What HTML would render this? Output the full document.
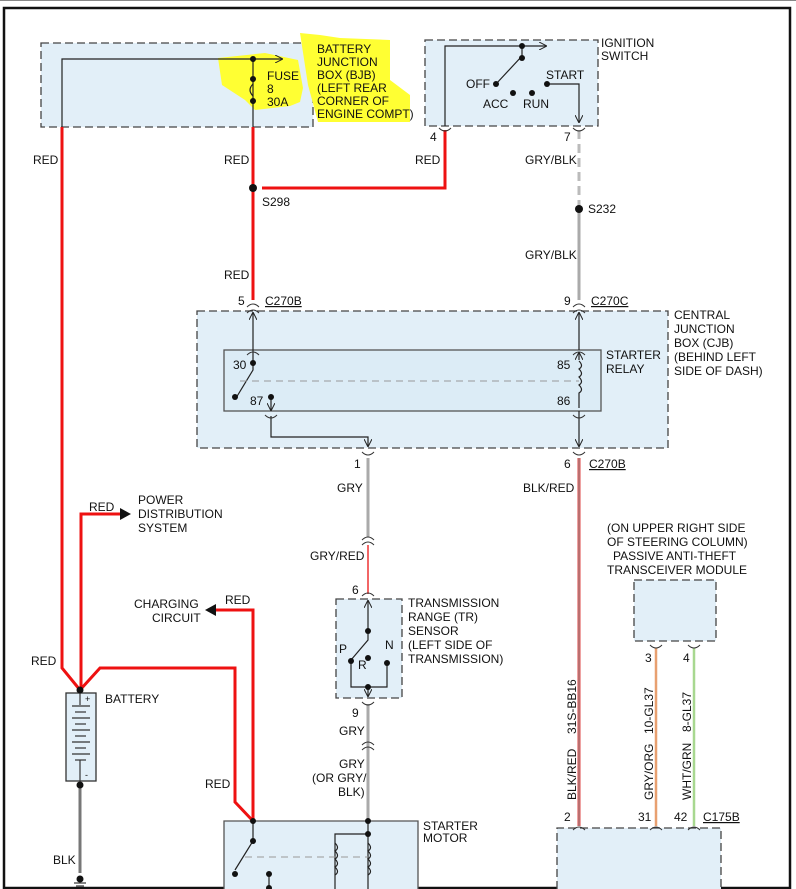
<!DOCTYPE html>
<html><head><meta charset="utf-8"><style>
html,body{margin:0;padding:0;background:#fff;}
svg{display:block;font-family:"Liberation Sans",Arial,sans-serif;font-size:12px;}
</style></head><body>
<svg width="796" height="889" viewBox="0 0 796 889" xmlns="http://www.w3.org/2000/svg">
<defs>
<marker id="ah" markerWidth="8" markerHeight="8" refX="7" refY="4" orient="auto" markerUnits="userSpaceOnUse"><path d="M0,0 L8,4 L0,8" fill="none" stroke="#222" stroke-width="1"/></marker>
</defs>
<rect x="0" y="0" width="796" height="889" fill="#fff"/>
<line x1="0" y1="0.5" x2="796" y2="0.5" stroke="#888"/>
<rect x="4" y="8" width="786" height="880" fill="none" stroke="#111" stroke-width="2.5"/>

<!-- boxes -->
<g fill="#e2eff8" stroke="#444" stroke-width="1.3" stroke-dasharray="8,4">
<rect x="41" y="43" width="272" height="84"/>
<rect x="425" y="40" width="173" height="86"/>
<rect x="197" y="311" width="471" height="137"/>
<rect x="336" y="599" width="66" height="99"/>
<rect x="634" y="580" width="82" height="61"/>
<path d="M557,889 L557,828 L721,828 L721,889"/>
</g>
<rect x="224" y="350" width="377" height="61" fill="#dcecf6" stroke="#555" stroke-width="1.3"/>
<path d="M224,889 L224,821 L418,821 L418,889" fill="#e2eff8" stroke="#555" stroke-width="1.3"/>
<rect x="66" y="693" width="30" height="88" fill="#e2eff8" stroke="#333" stroke-width="1.3"/>

<!-- yellow highlight -->
<path d="M300,33 L320,35 L340,38 L390,40 L390,80 L410,95 L410,122 L318,122 L308,85 Z" fill="#ffff33"/>
<path d="M218,58 L265,53 L298,60 L303,88 L300,102 L290,106 L255,110 L245,100 L222,85 Z" fill="#ffff33"/>

<!-- red wires -->
<g fill="none" stroke="#ee1111" stroke-width="3">
<path d="M62,127 L62,668 L80,690"/>
<path d="M81,690 L81,514 L120,514"/>
<path d="M80,690 L100,668 L235,668 L235,802 L253,821"/>
<path d="M253,821 L253,610 L216,610"/>
<path d="M253,127 L253,300"/>
<path d="M262,188 L445,188 L445,130"/>
</g>
<path d="M120,508 L131,514 L120,520 Z" fill="#111"/>
<path d="M216,604 L205,610 L216,616 Z" fill="#111"/>

<!-- gray wires -->
<line x1="579" y1="130" x2="579" y2="209" stroke="#bbb" stroke-width="3" stroke-dasharray="9,5"/>
<line x1="579" y1="209" x2="579" y2="300" stroke="#aaa" stroke-width="3"/>
<line x1="368" y1="458" x2="368" y2="537" stroke="#aaa" stroke-width="3"/>
<line x1="368" y1="545" x2="368" y2="594" stroke="#e33" stroke-width="1.5"/>
<line x1="368" y1="704" x2="368" y2="821" stroke="#aaa" stroke-width="3"/>
<line x1="579" y1="458" x2="579" y2="826" stroke="#d44" stroke-width="3"/>
<line x1="579" y1="458" x2="579" y2="826" stroke="#999" stroke-width="1"/>
<line x1="656" y1="648" x2="656" y2="826" stroke="#e8a070" stroke-width="2.5"/>
<line x1="694" y1="648" x2="694" y2="826" stroke="#a8d890" stroke-width="2.5"/>
<line x1="80" y1="785" x2="80" y2="873" stroke="#777" stroke-width="3"/>

<!-- black internal wires -->
<g fill="none" stroke="#222" stroke-width="1.2">
<path d="M62,127 L62,59 L282,59" marker-end="url(#ah)"/>
<path d="M253,59 L253,127"/>
<path d="M253,84 q-6,6 0,12"/>
<path d="M445,126 L445,46 L546,46" marker-end="url(#ah)"/>
<path d="M522,46 L522,56 L496,84"/>
<path d="M547,84 L579,84 L579,122" marker-end="url(#ah)"/>
<path d="M253,350 L253,313" marker-end="url(#ah)"/>
<path d="M253,350 L253,370 L236,398"/>
<path d="M579,350 L579,313" marker-end="url(#ah)"/>
<path d="M579,361 q5,5 0,8 q5,5 0,8 q5,5 0,8 q5,5 0,8 L579,408" />
<path d="M579,360 L579,353" marker-end="url(#ah)"/>
<path d="M579,411 L579,446" marker-end="url(#ah)"/>
<path d="M271,398 L271,410" marker-end="url(#ah)"/>
<path d="M271,416 L271,437 L368,437 L368,446" marker-end="url(#ah)"/>
<path d="M368,630 L368,640 L351,660"/>
<path d="M368,631 L368,601" marker-end="url(#ah)"/>
<path d="M351,663 L351,687 L387,687 L387,663"/>
<path d="M368,687 L368,696" marker-end="url(#ah)"/>
<path d="M253,821 L253,841 L235,870"/>
<path d="M368,821 L368,889"/>
<path d="M368,834 L335,834 L335,889"/>
<path d="M335,843 q5,5 0,8 q5,5 0,8 q5,5 0,8 q5,5 0,8"/>
<path d="M368,843 q5,5 0,8 q5,5 0,8 q5,5 0,8 q5,5 0,8"/>
<path d="M269,875 L269,889"/>
</g>
<g stroke="#999" stroke-width="1" stroke-dasharray="7,5">
<line x1="240" y1="381" x2="579" y2="381"/>
<line x1="245" y1="857" x2="368" y2="857"/>
</g>
<!-- connector arcs -->
<g fill="none" stroke="#333" stroke-width="1">
<path d="M247,307 q6,-6 12,0"/><path d="M247,313 q6,-6 12,0"/>
<path d="M573,307 q6,-6 12,0"/><path d="M573,313 q6,-6 12,0"/>
<path d="M247,355 q6,-6 12,0"/><path d="M573,355 q6,-6 12,0"/>
<path d="M265,415 q6,6 12,0"/><path d="M573,415 q6,6 12,0"/>
<path d="M362,452 q6,6 12,0"/><path d="M573,452 q6,6 12,0"/>
<path d="M439,128 q6,6 12,0"/><path d="M573,128 q6,6 12,0"/>
<path d="M362,540 q6,-6 12,0"/><path d="M362,545 q6,-6 12,0"/>
<path d="M362,596 q6,-6 12,0"/><path d="M362,702 q6,6 12,0"/>
<path d="M362,745 q6,-6 12,0"/><path d="M362,750 q6,-6 12,0"/>
<path d="M650,645 q6,6 12,0"/><path d="M688,645 q6,6 12,0"/>
<path d="M573,830 q6,-6 12,0"/><path d="M650,830 q6,-6 12,0"/><path d="M688,830 q6,-6 12,0"/>
</g>
<!-- battery -->
<g stroke="#333" stroke-width="1.2">
<line x1="80" y1="693" x2="80" y2="705"/>
<line x1="72" y1="706" x2="90" y2="706"/><line x1="75" y1="712" x2="86" y2="712"/>
<line x1="72" y1="718" x2="90" y2="718"/><line x1="75" y1="724" x2="86" y2="724"/>
<line x1="72" y1="730" x2="90" y2="730"/><line x1="75" y1="736" x2="86" y2="736"/>
<line x1="72" y1="742" x2="90" y2="742"/><line x1="75" y1="748" x2="86" y2="748"/>
<line x1="72" y1="754" x2="90" y2="754"/><line x1="75" y1="760" x2="86" y2="760"/>
<line x1="80" y1="760" x2="80" y2="781"/>
<line x1="74" y1="883" x2="86" y2="883"/><line x1="76" y1="886" x2="84" y2="886"/>
</g>
<!-- dots -->
<g fill="#111">
<circle cx="253" cy="59" r="3"/><circle cx="253" cy="79" r="3"/><circle cx="253" cy="101" r="3"/>
<circle cx="253" cy="188" r="4"/><circle cx="579" cy="209" r="4"/>
<circle cx="522" cy="46" r="3"/><circle cx="522" cy="58" r="3"/><circle cx="496" cy="84" r="3"/>
<circle cx="513" cy="93" r="3"/><circle cx="532" cy="93" r="3"/><circle cx="547" cy="84" r="3"/>
<circle cx="253" cy="363" r="3"/><circle cx="235" cy="397" r="3"/><circle cx="271" cy="397" r="3"/>
<circle cx="368" cy="631" r="3"/><circle cx="351" cy="661" r="3"/><circle cx="368" cy="658" r="3"/><circle cx="387" cy="663" r="3"/><circle cx="368" cy="687" r="3"/>
<circle cx="80" cy="690" r="3.5"/><circle cx="80" cy="785" r="3.5"/><circle cx="80" cy="879" r="3.5"/>
<circle cx="253" cy="821" r="3"/><circle cx="253" cy="841" r="3"/><circle cx="235" cy="874" r="3"/>
<circle cx="368" cy="821" r="3"/><circle cx="368" cy="834" r="3"/><circle cx="269" cy="874" r="3"/><circle cx="269" cy="888" r="3"/>
</g>
<!-- text -->
<g fill="#111">
<text x="317" y="53">BATTERY</text><text x="317" y="66">JUNCTION</text><text x="317" y="79">BOX (BJB)</text>
<text x="317" y="92">(LEFT REAR</text><text x="317" y="105">CORNER OF</text><text x="317" y="118">ENGINE COMPT)</text>
<text x="267" y="80">FUSE</text><text x="267" y="93">8</text><text x="267" y="106">30A</text>
<text x="601" y="47">IGNITION</text><text x="601" y="60">SWITCH</text>
<text x="466" y="88">OFF</text><text x="483" y="108">ACC</text><text x="523" y="108">RUN</text><text x="546" y="79">START</text>
<text x="430" y="141">4</text><text x="564" y="141">7</text>
<text x="33" y="164">RED</text><text x="224" y="164">RED</text><text x="415" y="164">RED</text>
<text x="525" y="164">GRY/BLK</text>
<text x="262" y="206">S298</text><text x="588" y="213">S232</text>
<text x="525" y="259">GRY/BLK</text><text x="224" y="279">RED</text>
<text x="238" y="305">5</text><text x="265" y="305" text-decoration="underline">C270B</text>
<text x="564" y="305">9</text><text x="591" y="305" text-decoration="underline">C270C</text>
<text x="674" y="319">CENTRAL</text><text x="674" y="333">JUNCTION</text><text x="674" y="347">BOX (CJB)</text>
<text x="674" y="361">(BEHIND LEFT</text><text x="674" y="375">SIDE OF DASH)</text>
<text x="606" y="359">STARTER</text><text x="606" y="373">RELAY</text>
<text x="233" y="369">30</text><text x="250" y="405">87</text><text x="557" y="369">85</text><text x="557" y="405">86</text>
<text x="354" y="468">1</text><text x="564" y="468">6</text><text x="589" y="468" text-decoration="underline">C270B</text>
<text x="337" y="492">GRY</text><text x="523" y="492">BLK/RED</text>
<text x="89" y="511">RED</text>
<text x="138" y="504">POWER</text><text x="138" y="518">DISTRIBUTION</text><text x="138" y="532">SYSTEM</text>
<text x="310" y="560">GRY/RED</text>
<text x="607" y="532">(ON UPPER RIGHT SIDE</text><text x="607" y="546">OF STEERING COLUMN)</text>
<text x="613" y="560">PASSIVE ANTI-THEFT</text><text x="607" y="574">TRANSCEIVER MODULE</text>
<text x="352" y="594">6</text>
<text x="408" y="607">TRANSMISSION</text><text x="408" y="621">RANGE (TR)</text><text x="408" y="635">SENSOR</text>
<text x="408" y="649">(LEFT SIDE OF</text><text x="408" y="663">TRANSMISSION)</text>
<text x="134" y="608">CHARGING</text><text x="152" y="622">CIRCUIT</text><text x="225" y="604">RED</text>
<text x="31" y="665">RED</text>
<text x="339" y="653">P</text><text x="358" y="669">R</text><text x="385" y="649">N</text>
<text x="645" y="662">3</text><text x="683" y="662">4</text>
<text x="105" y="703">BATTERY</text><text x="85" y="702" font-size="9">+</text><text x="85" y="778" font-size="9">-</text>
<text x="352" y="717">9</text><text x="339" y="735">GRY</text>
<text x="339" y="768">GRY</text><text x="312" y="782">(OR GRY/</text><text x="338" y="796">BLK)</text>
<text x="205" y="788">RED</text>
<text x="423" y="830">STARTER</text><text x="423" y="842">MOTOR</text>
<text x="53" y="864">BLK</text>
<text x="564" y="821">2</text><text x="638" y="821">31</text><text x="674" y="821">42</text>
<text x="703" y="821" text-decoration="underline">C175B</text>
<text transform="translate(576,800) rotate(-90)">BLK/RED</text>
<text transform="translate(576,734) rotate(-90)">31S-BB16</text>
<text transform="translate(653,800) rotate(-90)">GRY/ORG</text>
<text transform="translate(653,734) rotate(-90)">10-GL37</text>
<text transform="translate(691,800) rotate(-90)">WHT/GRN</text>
<text transform="translate(691,732) rotate(-90)">8-GL37</text>
</g>
</svg>
</body></html>
